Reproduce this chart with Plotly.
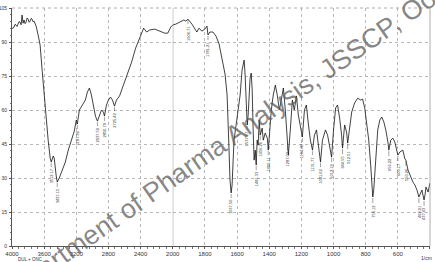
import numpy as np
import plotly.graph_objects as go

# ---- data (wavenumber in 1/cm, %T) ----
wavenumber = [
    4000, 3987, 3975, 3962, 3950, 3937, 3925, 3912, 3900, 3887, 3875, 3862, 3850, 3837, 3825,
    3812, 3800, 3787, 3775, 3762, 3750, 3737, 3725, 3700, 3675, 3650, 3625, 3600, 3575, 3550,
    3525, 3512, 3487, 3475, 3450, 3437, 3412, 3375, 3337, 3300, 3262, 3225, 3200, 3187, 3162,
    3125, 3087, 3062, 3037, 3012, 2987, 2962, 2937, 2912, 2887, 2862, 2850, 2825, 2800, 2775,
    2750, 2725, 2700, 2662, 2612, 2562, 2512, 2462, 2412, 2362, 2325, 2287, 2225, 2162, 2100,
    2062, 2025, 2000,
    1981, 1956, 1931, 1919, 1906, 1881, 1862, 1850, 1837, 1819, 1800, 1787, 1781, 1769, 1750,
    1731, 1712, 1694, 1675, 1662, 1656, 1650, 1644, 1637, 1631, 1625, 1619, 1606, 1594, 1581,
    1569, 1562, 1556, 1550, 1544, 1537, 1531, 1525, 1519, 1512, 1506, 1500, 1494, 1487, 1481,
    1475, 1469, 1462, 1456, 1444, 1437, 1425, 1412, 1406, 1400, 1387, 1375, 1362, 1350, 1337,
    1325, 1312, 1300, 1287, 1281, 1269, 1256, 1244, 1231, 1219, 1206, 1194, 1181, 1169, 1156,
    1144, 1131, 1119, 1106, 1094, 1081, 1069, 1062, 1050, 1037, 1025, 1012, 1000, 987, 975,
    962, 950, 944, 931, 919, 912, 900, 887, 869, 850, 831, 819, 806, 794, 781,
    769, 756, 750, 737, 725, 712, 700, 687, 675, 662, 656, 644, 631, 619, 606,
    600, 587, 569, 556, 550, 537, 519, 506, 494, 481, 469, 456, 450, 444, 437,
    431, 425, 412, 400,
]
transmittance = [
    96.2, 96.0, 96.6, 97.8, 97.5, 96.9, 97.9, 99.0, 98.8, 97.6, 101.9, 98.3, 99.7, 98.1, 98.8,
    100.6, 100.1, 98.7, 99.2, 100.4, 100.1, 98.9, 99.2, 97.0, 93.1, 88.6, 77.6, 66.6, 56.4, 46.7,
    38.8, 37.0, 39.7, 38.8, 30.9, 28.2, 30.0, 33.5, 37.0, 42.3, 46.7, 50.7, 55.6, 53.8, 60.0,
    62.2, 64.4, 67.9, 69.7, 66.6, 60.9, 57.3, 55.1, 57.8, 60.0, 59.1, 57.3, 62.2, 64.4, 65.7,
    64.4, 61.7, 64.4, 66.2, 71.0, 75.4, 81.1, 87.3, 91.7, 96.1, 94.4, 95.3, 95.7, 94.8, 93.9,
    93.9, 96.6, 97.5,
    97.9, 98.8, 99.7, 99.2, 100.1, 97.9, 95.7, 94.4, 96.1, 94.8, 95.7, 97.0, 93.1, 94.4, 94.4,
    92.6, 89.1, 82.9, 75.9, 66.6, 57.8, 42.3, 29.1, 23.4, 26.9, 40.1, 46.7, 53.4, 60.0, 66.6,
    77.6, 81.1, 82.0, 75.4, 60.0, 53.4, 57.8, 66.6, 74.1, 76.3, 68.8, 51.2, 37.9, 42.3, 35.7,
    46.7, 44.5, 55.6, 48.9, 52.0, 46.7, 49.8, 47.6, 42.3, 48.9, 60.0, 66.6, 71.0, 66.6, 60.0,
    64.4, 69.7, 60.0, 44.5, 40.1, 51.2, 64.4, 60.0, 66.2, 57.8, 53.4, 48.1, 60.0, 62.2, 53.4,
    46.7, 42.3, 48.9, 51.2, 44.5, 37.0, 46.7, 48.9, 51.2, 48.9, 44.5, 39.2, 51.2, 60.9, 62.2,
    56.4, 48.9, 43.2, 53.4, 50.3, 45.4, 53.4, 59.1, 63.1, 65.2, 64.4, 64.8, 60.9, 53.4, 46.7,
    35.7, 21.6, 24.7, 36.6, 51.2, 55.6, 56.9, 54.7, 51.2, 45.9, 42.3, 46.7, 47.6, 45.9, 42.3,
    40.1, 41.5, 42.3, 38.4, 37.9, 33.5, 30.0, 28.2, 26.9, 24.7, 21.6, 23.8, 24.7, 22.5, 20.3,
    22.5, 26.0, 23.8, 27.8,
]

# peak annotations (wavenumber positions and printed labels)
peak_wn = [3512, 3437, 3187, 2937, 2850, 2725, 1906, 1781, 1637, 1537, 1481, 1456, 1406,
           1287, 1194, 1131, 1081, 1012, 944, 912, 756, 656, 600, 550, 469, 437]
peak_labels = ["3512.17", "3437.15", "3187.90", "2937.59", "2850.79", "2725.42", "1906.71",
               "1781.21", "1637.56", "1537.27", "1481.33", "1456.26", "1406.11", "1287.03",
               "1194.48", "1131.77", "1081.62", "1012.19", "944.55", "912.51", "756.12",
               "656.22", "600.17", "550.26", "469.01", "437.43"]

y_ticks = [0, 15, 30, 45, 60, 75, 90, 105]
x_ticks_high = [4000, 3600, 3200, 2800, 2400]
x_ticks_low = [2000, 1800, 1600, 1400, 1200, 1000, 800, 600, 400]

fig = go.Figure()
line_style = dict(color="#111111", width=0.8)
fig.add_trace(go.Scatter(x=wavenumber, y=transmittance, mode="lines", line=line_style,
                         xaxis="x", yaxis="y", showlegend=False, hoverinfo="skip"))
fig.add_trace(go.Scatter(x=wavenumber, y=transmittance, mode="lines", line=line_style,
                         xaxis="x2", yaxis="y", showlegend=False, hoverinfo="skip"))

split = 5 / 13
tickfont = dict(family="Liberation Sans, Arial", size=6, color="#333333")
common_x = dict(showgrid=True, gridcolor="#b8b8b8", griddash="dot", gridwidth=0.6,
                zeroline=False, showline=True, linecolor="#555555", linewidth=0.8,
                ticks="outside", ticklen=2, tickcolor="#555555", tickwidth=0.6,
                tickfont=tickfont, anchor="y", automargin=False)
fig.update_layout(
    width=435, height=262,
    margin=dict(l=12, r=5, t=8, b=16, autoexpand=False),
    paper_bgcolor="white", plot_bgcolor="white",
    xaxis=dict(domain=[0, split], range=[4000, 2000], tickvals=x_ticks_high,
               ticktext=[str(v) for v in x_ticks_high],
               minor=dict(dtick=80, ticks="outside", ticklen=2, tickcolor="#777777",
                          showgrid=False),
               **common_x),
    xaxis2=dict(domain=[split, 1], range=[2000, 400], tickvals=x_ticks_low,
                ticktext=[str(v) for v in x_ticks_low],
                minor=dict(dtick=40, ticks="outside", ticklen=2, tickcolor="#777777",
                           showgrid=False),
                **common_x),
    yaxis=dict(range=[0, 105], tickvals=y_ticks, ticktext=[str(v) for v in y_ticks],
               showgrid=True, gridcolor="#b8b8b8", griddash="dot", gridwidth=0.6,
               zeroline=False, showline=True, linecolor="#555555", linewidth=0.8,
               ticks="outside", ticklen=2, tickcolor="#555555", tickwidth=0.6,
               minor=dict(dtick=3, ticks="outside", ticklen=1.5, tickcolor="#777777",
                          showgrid=False),
               tickfont=dict(family="Liberation Sans, Arial", size=5, color="#333333"),
               ticklabelstandoff=1, automargin=False),
)

# frame: solid line at 2000 split, right border, dotted top border
fig.add_shape(type="line", xref="x2", yref="paper", x0=2000, x1=2000, y0=0, y1=1,
              line=dict(color="#8a8a8a", width=1))
fig.add_shape(type="line", xref="paper", yref="paper", x0=1, x1=1, y0=0, y1=1,
              line=dict(color="#9a9a9a", width=0.8))
fig.add_shape(type="line", xref="paper", yref="paper", x0=0, x1=1, y0=1, y1=1,
              line=dict(color="#9a9a9a", width=0.8, dash="dot"))

# peak labels
wn_asc = np.array(wavenumber[::-1], dtype=float)
t_asc = np.array(transmittance[::-1], dtype=float)
for wn, lab in zip(peak_wn, peak_labels):
    t = float(np.interp(wn, wn_asc, t_asc))
    fig.add_annotation(x=wn, y=t, xref="x" if wn >= 2000 else "x2", yref="y",
                       text=lab, textangle=-90, showarrow=True, arrowhead=0,
                       arrowwidth=0.5, arrowcolor="#444444", ax=0, ay=14, standoff=1,
                       font=dict(family="Liberation Sans, Arial", size=4, color="#333333"))

# watermark
fig.add_annotation(xref="paper", yref="paper", x=0.51, y=0.44,
                   text="Department of Pharma Analysis, JSSCP, Ooty",
                   textangle=-35, showarrow=False,
                   font=dict(family="Liberation Sans, Arial", size=27,
                             color="rgba(95,95,95,0.75)"))

# bottom texts
fig.add_annotation(xref="paper", yref="paper", x=0.009, y=-0.055, xanchor="left",
                   yanchor="middle", text="DUL + ONC", showarrow=False,
                   font=dict(family="Liberation Sans, Arial", size=4.5, color="#333333"))
fig.add_annotation(xref="paper", yref="paper", x=1.0096, y=-0.05, xanchor="right",
                   yanchor="middle", text="1/cm", showarrow=False,
                   font=dict(family="Liberation Sans, Arial", size=5, color="#333333"))

fig.write_html("out.html")
